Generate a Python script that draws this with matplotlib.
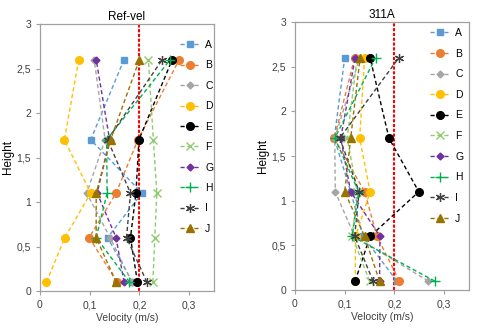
import matplotlib
matplotlib.use("Agg")
import matplotlib.pyplot as plt
from matplotlib.ticker import FuncFormatter

plt.rcParams["font.family"] = ["Liberation Sans", "DejaVu Sans"]

heights = [0.1, 0.6, 1.1, 1.7, 2.6]
series_names = ["A", "B", "C", "D", "E", "F", "G", "H", "I", "J"]

# velocities at each height (0.1, 0.6, 1.1, 1.7, 2.6)
ref_vel = {
    "A": [0.186, 0.136, 0.205, 0.102, 0.169],
    "B": [0.155, 0.099, 0.153, 0.197, 0.280],
    "C": [0.185, 0.141, 0.094, 0.131, 0.109],
    "D": [0.013, 0.050, 0.102, 0.049, 0.078],
    "E": [0.196, 0.182, 0.193, 0.199, 0.266],
    "F": [0.227, 0.231, 0.235, 0.228, 0.218],
    "G": [0.169, 0.153, 0.115, 0.140, 0.113],
    "H": [0.180, 0.113, 0.135, 0.134, 0.262],
    "I": [0.215, 0.174, 0.182, 0.136, 0.246],
    "J": [0.153, 0.113, 0.113, 0.142, 0.200],
}
vel_311a = {
    "A": [0.205, 0.137, 0.112, 0.079, 0.100],
    "B": [0.210, 0.165, 0.140, 0.079, 0.120],
    "C": [0.268, 0.120, 0.081, 0.080, 0.130],
    "D": [0.121, 0.122, 0.151, 0.130, 0.140],
    "E": [0.121, 0.151, 0.249, 0.189, 0.151],
    "F": [0.150, 0.115, 0.125, 0.105, 0.125],
    "G": [0.170, 0.171, 0.112, 0.092, 0.121],
    "H": [0.281, 0.115, 0.128, 0.080, 0.162],
    "I": [0.157, 0.120, 0.129, 0.090, 0.209],
    "J": [0.170, 0.140, 0.100, 0.112, 0.131],
}
ref_line = 0.2

styles = {
    "A": dict(color="#5B9BD5", marker="s", ms=5),
    "B": dict(color="#ED7D31", marker="o", ms=5.5),
    "C": dict(color="#A5A5A5", marker="D", ms=3.5),
    "D": dict(color="#FFC000", marker="o", ms=5.5),
    "E": dict(color="#000000", marker="o", ms=5.5),
    "F": dict(color="#8FCB6E", marker="x", ms=5.5, mew=1.0),
    "G": dict(color="#7030A0", marker="D", ms=3.5),
    "H": dict(color="#00B050", marker="+", ms=6.5, mew=1.0),
    "I": dict(color="#404040", marker=(6, 2, 0), ms=6.5, mew=0.9),
    "J": dict(color="#997300", marker="^", ms=5.5),
}


def comma(v, pos):
    s = f"{v:g}"
    return s.replace(".", ",")


def draw_panel(ax, data, title, leg_anchor, spacing):
    for name in series_names:
        st = dict(styles[name])
        ax.plot(data[name], heights, linestyle="--", lw=1.0, dashes=(3, 2),
                label=name, **st)
    ax.plot([ref_line, ref_line], [0, 3], color="#FF0000", lw=1.5,
            linestyle=(0, (1.5, 0.8)), zorder=1)
    ax.set_xlim(0, 0.35)
    ax.set_ylim(0, 3)
    ax.set_xticks([0, 0.1, 0.2, 0.3])
    ax.set_yticks([0, 0.5, 1, 1.5, 2, 2.5, 3])
    ax.xaxis.set_major_formatter(FuncFormatter(comma))
    ax.yaxis.set_major_formatter(FuncFormatter(comma))
    ax.tick_params(labelsize=7.5, colors="#404040", length=3, width=0.8,
                   color="#A0A0A0")
    for sp in ax.spines.values():
        sp.set_color("#A0A0A0")
        sp.set_linewidth(0.9)
    ax.set_title(title, fontsize=8.5, pad=3)
    ax.set_xlabel("Velocity (m/s)", fontsize=7.5, color="#404040", labelpad=2)
    ax.set_ylabel("Height", fontsize=8.5, labelpad=2)
    ax.legend(loc="upper left", bbox_to_anchor=leg_anchor, frameon=False,
              fontsize=7.5, handlelength=2.0, handletextpad=0.4,
              labelspacing=spacing, borderpad=0, borderaxespad=0)


fig = plt.figure(figsize=(4.85, 3.31), dpi=100)
ax1 = fig.add_axes([40 / 485, 40 / 331, 174 / 485, 267 / 331])
ax2 = fig.add_axes([295 / 485, 41 / 331, 174 / 485, 268 / 331])

draw_panel(ax1, ref_vel, "Ref-vel", (0.805, 0.94), 1.0)
draw_panel(ax2, vel_311a, "311A", (0.776, 0.978), 1.02)

fig.savefig("out.png", dpi=100)
